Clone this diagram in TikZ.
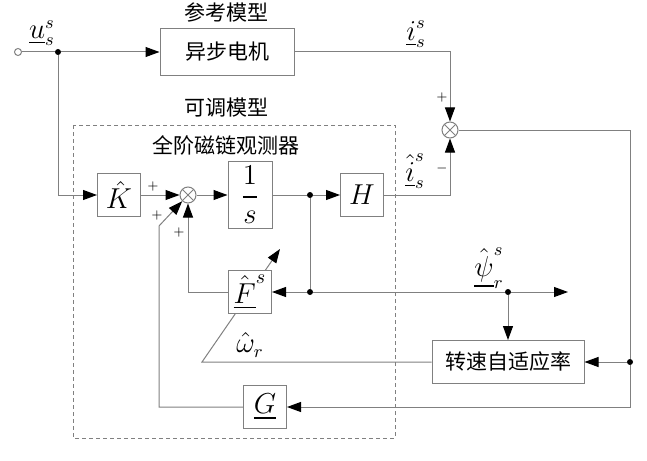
\documentclass[tikz,border=0pt]{standalone}
\usepackage{amsmath}
\usepackage{fontspec}
\newfontfamily\cjk{Noto Sans CJK SC}
\usetikzlibrary{arrows.meta, positioning, calc}
\tikzset{%
   % signal line, and the same line ending in a filled tip
   sig/.style={draw=black!50, line width=0.5pt},
   arr/.style={sig, -{Triangle[length=7pt,width=5pt,black]}},
   blk/.style={
      rectangle,
      draw=black!50,
      line width=0.5pt,
      fill=white,
      inner sep=1pt,
      minimum width=21.5pt,
      minimum height=21.5pt,
      font=\fontsize{14.5}{17}\selectfont
   },
   cblk/.style={blk, font=\cjk\fontsize{10.5}{12}\selectfont},
   % summing junction: circle with a cross clipped to it
   sumjunc/.style={
      circle,
      draw=black!50,
      line width=0.5pt,
      minimum size=8pt,
      inner sep=0pt,
      path picture={
         \draw[black!50, line width=0.5pt]
            (path picture bounding box.north west) -- (path picture bounding box.south east)
            (path picture bounding box.north east) -- (path picture bounding box.south west);
      }
   },
   dot/.style={circle, inner sep=0pt, minimum size=3pt, fill=black},
   sgn/.style={inner sep=0pt, font=\fontsize{6}{7}\selectfont},
   lbl/.style={inner sep=1pt, font=\fontsize{13.5}{16}\selectfont},
   title/.style={inner sep=1pt, font=\cjk\fontsize{10.5}{12}\selectfont},
}

\begin{document}
\begin{tikzpicture}[x=0.5pt, y=-0.5pt]
   \useasboundingbox (0,0) rectangle (647,460);
   % reference model
   \node[circle, draw=black!50, line width=0.5pt, inner sep=0pt, minimum size=3.5pt] (us) at (18,52) {};
   \node[dot] (j1) at (58,52) {};
   \node[cblk, minimum width=67pt, minimum height=23.5pt] (IM) at (227,52) {异步电机};
   \node[title] at (226,12) {参考模型};
   \node[sumjunc] (S1) at (450,130) {};
   % adjustable model
   \draw[black!50, line width=0.5pt, dash pattern=on 2pt off 1.5pt] (73,125) rectangle (395,438);
   \node[title] at (226,108) {可调模型};
   \node[title] at (226,145) {全阶磁链观测器};
   \node[blk] (K) at (119,195) {$\hat{K}$};
   \node[sumjunc] (S2) at (188,195) {};
   \node[blk, minimum width=22pt, minimum height=33.5pt] (I) at (250,195) {$\dfrac{1}{s}$};
   \node[dot] (j2) at (310,195) {};
   \node[blk] (H) at (362,195) {$H$};
   \node[dot] (j3) at (310,292) {};
   \node[dot] (j4) at (508,292) {};
   \coordinate (psi) at (568,292);
   \node[cblk, minimum width=76pt, minimum height=21.5pt] (AL) at (508,362) {转速自适应率};
   \node[dot] (j5) at (630,362) {};
   \coordinate (c1) at (630,407);
   \node[blk] (G) at (265,407) {$\underline{G}$};
   \coordinate (g1) at (159,226);
   \coordinate (w1) at (202,362);
   \coordinate (w2) at (280,249);
   % speed estimate runs behind the F block
   \draw[arr] (AL.west) -- (w1) -- (w2);
   \node[blk] (F) at (250,292) {$\hat{\underline{F}}^s$};

   \draw[sig] (us) -- (j1);
   \draw[arr] (j1) -- (IM);
   \draw[arr] (IM.east) -| (S1.north);
   \draw[arr] (j1) |- (K.west);
   \draw[arr] (K) -- (S2);
   \draw[arr] (S2) -- (I);
   \draw[sig] (I) -- (j2);
   \draw[arr] (j2) -- (H);
   \draw[arr] (H.east) -| (S1.south);
   \draw[sig] (S1.east) -| (j5);
   \draw[arr] (j5) -- (c1) -- (G.east);
   \draw[arr] (j5) -- (AL.east);
   \draw[arr] (G.west) -| (g1) -- (S2);
   \draw[sig] (j2) -- (j3);
   \draw[arr] (j3) -- (F.east);
   \draw[sig] (j3) -- (j4);
   \draw[arr] (j4) -- (psi);
   \draw[arr] (j4) -- (AL.north);
   \draw[arr] (F.west) -| (S2.south);

   % signal names
   \node[lbl] at (42,33) {$\underline{u}_s^s$};
   \node[lbl] at (416,34) {$\underline{i}_s^s$};
   \node[lbl] at (415,171) {$\hat{\underline{i}}_s^s$};
   \node[lbl] at (489,268) {$\hat{\underline{\psi}}_r^s$};
   \node[lbl] at (250,345) {$\hat{\omega}_r$};
   % signs at the junctions
   \node[sgn] at (442,98) {$+$};
   \node[sgn] at (442,168) {$-$};
   \node[sgn] at (153,186) {$+$};
   \node[sgn] at (157,215) {$+$};
   \node[sgn] at (179,232) {$+$};
\end{tikzpicture}
\end{document}
